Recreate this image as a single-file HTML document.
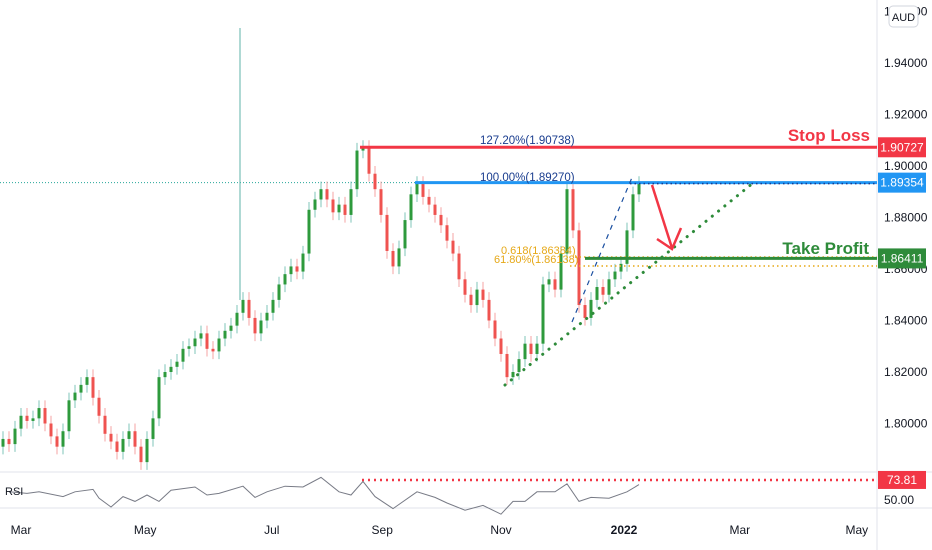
<!DOCTYPE html>
<html><head><meta charset="utf-8"><style>
body{margin:0;background:#fff;}
svg{display:block;font-family:"Liberation Sans",sans-serif;}
</style></head><body>
<svg id="c" width="932" height="550">
<rect width="932" height="550" fill="#fff"/>
</svg>
<script>
const closes=[1.794,1.792,1.798,1.803,1.801,1.802,1.806,1.800,1.795,1.791,1.797,1.809,1.812,1.815,1.818,1.810,1.803,1.796,1.793,1.789,1.794,1.797,1.791,1.785,1.794,1.802,1.818,1.820,1.822,1.824,1.829,1.830,1.833,1.835,1.829,1.828,1.833,1.836,1.838,1.843,1.848,1.841,1.835,1.840,1.843,1.848,1.854,1.858,1.861,1.859,1.866,1.883,1.887,1.891,1.887,1.882,1.885,1.881,1.891,1.906,1.907,1.897,1.891,1.881,1.867,1.861,1.868,1.879,1.889,1.893,1.888,1.885,1.881,1.877,1.871,1.866,1.856,1.850,1.846,1.852,1.848,1.840,1.833,1.827,1.818,1.820,1.825,1.831,1.827,1.831,1.854,1.856,1.852,1.866,1.891,1.875,1.846,1.841,1.848,1.853,1.850,1.856,1.859,1.862,1.875,1.889,1.893];
const rsiIdx=[1,4,6,10,12,15,16,18,20,22,24,26,28,30,32,34,36,40,42,44,47,50,53,56,58,60,62,65,69,72,74,77,80,83,85,87,89,92,94,96,98,101,104,106];
const rsiVals=[59,57,59,53,59,62,51,40,53,47,55,47,61,63,65,55,57,66,52,59,66,65,77,59,55,72,53,38,59,52,45,36,42,31,47,47,59,59,69,47,52,51,59,68];
const priceTicks=[1.96,1.94,1.92,1.90,1.88,1.86,1.84,1.82,1.80];
const timeLabels=["Mar","May","Jul","Sep","Nov","2022","Mar","May"];
const timeIdx=[3,23.7,44.8,63.2,83,103.5,122.8,142.3];
const levels={sl:1.90727,fib100:1.89354,tp:1.86411};

const X=i=>3+6*i;
const Y=p=>166+(1.90-p)*2575;
const RY=v=>499-(v-50)*0.8;
const svg=document.getElementById('c');
const NS='http://www.w3.org/2000/svg';
function mk(tag,attrs,parent){const e=document.createElementNS(NS,tag);for(const k in attrs)e.setAttribute(k,attrs[k]);(parent||svg).appendChild(e);return e;}

// grid / separators
let e;
e=mk('line',{x1:877,y1:0,x2:877,y2:550,stroke:'#e0e3eb'});

e=mk('line',{x1:0,y1:472,x2:932,y2:472,stroke:'#e0e3eb'});

e=mk('line',{x1:0,y1:508,x2:932,y2:508,stroke:'#e0e3eb'});


// dotted last price line
e=mk('line',{x1:0,y1:Y(levels.fib100),x2:415,y2:Y(levels.fib100),stroke:'#26a69a','stroke-width':1,'stroke-dasharray':'1 2'});


// spike
e=mk('line',{x1:240,y1:28,x2:240,y2:300,stroke:'#5fb3aa','stroke-width':1});


// candles
const cg=mk('g',{});

for(let i=0;i<closes.length;i++){
  const o=i?closes[i-1]:closes[0]-0.003;const c=closes[i];
  const up=c>=o;const x=X(i);
  const hi=Math.max(o,c)+0.003,lo=Math.min(o,c)-0.003;
  const w=mk('line',{x1:x,y1:Y(hi),x2:x,y2:Y(lo),stroke:up?'#7fc4b8':'#f4a3a3','stroke-width':1},cg);
  
  const t=Math.min(Y(o),Y(c));const h=Math.max(1.5,Math.abs(Y(o)-Y(c)));
  const b=mk('rect',{x:x-1.5,y:t,width:3,height:h,fill:up?'#2e9a3c':'#ef5350'},cg);
  
}

// fib orange dotted
e=mk('line',{x1:575,y1:257,x2:877,y2:257,stroke:'#e6a817','stroke-width':1.5,'stroke-dasharray':'1.5 3'});

e=mk('line',{x1:570,y1:266,x2:877,y2:266,stroke:'#e6a817','stroke-width':1.5,'stroke-dasharray':'1.5 3'});


// lines
e=mk('line',{x1:360,y1:Y(levels.sl),x2:877,y2:Y(levels.sl),stroke:'#f23645','stroke-width':3});

e=mk('line',{x1:415,y1:Y(levels.fib100),x2:877,y2:Y(levels.fib100),stroke:'#2196f3','stroke-width':3});

e=mk('line',{x1:630,y1:Y(levels.fib100)+1,x2:877,y2:Y(levels.fib100)+1,stroke:'#1a3d8f','stroke-width':1.5,'stroke-dasharray':'1.5 3'});

e=mk('line',{x1:585,y1:Y(levels.tp),x2:877,y2:Y(levels.tp),stroke:'#2e8b3a','stroke-width':3});


// trend lines
e=mk('line',{x1:505,y1:385,x2:753,y2:183,stroke:'#2e8b3a','stroke-width':3,'stroke-dasharray':'0.1 8','stroke-linecap':'round'});

e=mk('line',{x1:572,y1:322,x2:633,y2:175,stroke:'#1a4fa0','stroke-width':1.2,'stroke-dasharray':'5 5'});

e=mk('polyline',{points:'652,185 672,248',stroke:'#f23645','stroke-width':2.5,fill:'none'});

e=mk('polyline',{points:'657,239 672,249 681,228',stroke:'#f23645','stroke-width':2.5,fill:'none'});


// texts
function txt(x,y,s,attrs,name){const t=mk('text',Object.assign({x:x,y:y},attrs));t.textContent=s;return t;}
txt(480,144,'127.20%(1.90738)',{fill:'#1a3d8f','font-size':11.5},'fib-127-label');
txt(480,181,'100.00%(1.89270)',{fill:'#1a3d8f','font-size':11.5},'fib-100-label');
txt(501,254,'0.618(1.86384)',{fill:'#e6a817','font-size':11},'fib-618-label');
txt(494,263,'61.80%(1.86138)',{fill:'#e6a817','font-size':11},'fib-6180-label');
txt(870,141,'Stop Loss',{fill:'#f23645','font-size':17,'font-weight':'bold','text-anchor':'end'},'stop-loss-label');
txt(869,254,'Take Profit',{fill:'#2e8b3a','font-size':17,'font-weight':'bold','text-anchor':'end'},'take-profit-label');

// price ticks
priceTicks.forEach(p=>{const t=txt(884,Y(p)+4,p.toFixed(5),{fill:'#131722','font-size':12},'price-tick');});
// AUD
e=mk('rect',{x:889,y:6,width:29,height:21,rx:4,fill:'#fff',stroke:'#d1d4dc'});

txt(903.5,21,'AUD',{fill:'#131722','font-size':11,'text-anchor':'middle'},'currency-label');

// badges
function badge(p,col,name){const y=Y(p);const r=mk('rect',{x:878,y:y-10,width:48,height:20,fill:col});
txt(902,y+4,p.toFixed(5),{fill:'#fff','font-size':12,'text-anchor':'middle'},name+'-text');}
badge(levels.sl,'#f23645','stop-loss-badge');
badge(levels.fib100,'#2196f3','fib-100-badge');
badge(levels.tp,'#2e8b3a','take-profit-badge');

// RSI
let pts=rsiIdx.map((i,k)=>X(i)+','+RY(rsiVals[k])).join(' ');
e=mk('polyline',{points:pts,fill:'none',stroke:'#787b86','stroke-width':1});

e=mk('line',{x1:362,y1:RY(73.81),x2:877,y2:RY(73.81),stroke:'#f23645','stroke-width':2.5,'stroke-dasharray':'2 4'});

txt(5,495,'RSI',{fill:'#131722','font-size':11},'rsi-title');
e=mk('rect',{x:878,y:RY(73.81)-9,width:48,height:18,fill:'#f23645'});

txt(902,RY(73.81)+4,'73.81',{fill:'#fff','font-size':12,'text-anchor':'middle'},'rsi-badge-text');
txt(884,RY(50)+5,'50.00',{fill:'#131722','font-size':12},'rsi-tick');

// time axis
timeLabels.forEach((s,k)=>{txt(X(timeIdx[k]),534,s,{fill:'#131722','font-size':12,'text-anchor':'middle','font-weight':s==='2022'?'bold':'normal'},'time-tick');});
</script>
</body></html>
